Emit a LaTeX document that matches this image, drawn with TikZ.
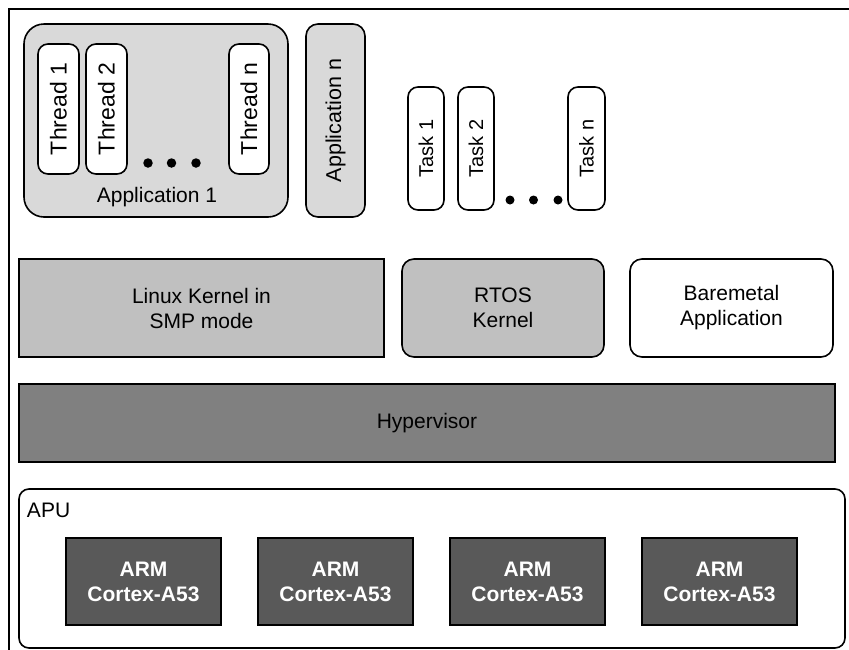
\documentclass[tikz,border=0pt]{standalone}
\usepackage{fontspec}
\setmainfont{Liberation Sans}
\begin{document}
\begin{tikzpicture}[x=1pt,y=-1pt,
  every node/.style={inner sep=0pt, outer sep=0pt, font=\fontsize{21}{25}\selectfont, align=center},
  box/.style={draw=black, line width=1.6pt},
  rbox/.style={box, rounded corners=#1},
  rbox/.default=12pt,
  vbox/.style={rbox=10pt, fill=white, rotate=90},
  thbox/.style={vbox, minimum width=130pt, font=\fontsize{23}{25}\selectfont},
  tkbox/.style={vbox, minimum width=123pt, font=\fontsize{20}{25}\selectfont},
  dot/.style={circle, fill=black, minimum size=9.5pt},
  armbox/.style={box, fill=armgray, minimum width=155pt, minimum height=87pt, text=white, font=\fontsize{21}{25}\selectfont\bfseries}
]
\definecolor{appgray}{HTML}{D9D9D9}
\definecolor{kgray}{HTML}{C0C0C0}
\definecolor{hypgray}{HTML}{808080}
\definecolor{armgray}{HTML}{595959}
\useasboundingbox (0,0) rectangle (849,649);
\fill[white] (0,0) rectangle (849,649);
% outer frame
\coordinate (fbl) at (9,652);
\coordinate (ftl) at (9,9);
\coordinate (ftr) at (852,9);
\draw[line width=1.6pt] (fbl) -- (ftl) -- (ftr);

% Application 1
\node[rbox=20pt, fill=appgray, minimum width=264pt, minimum height=193pt] (app1) at (156,120.5) {};
\node (app1lbl) at (157,197) {Application 1};
\node[thbox, minimum height=41pt] (th1) at (58.5,109) {Thread 1};
\node[thbox, minimum height=41pt] (th2) at (106.5,109) {Thread 2};
\node[thbox, minimum height=40pt] (thn) at (249,109) {Thread n};
\node[dot] (d1) at (148,163) {};
\node[dot] (d2) at (171.5,163) {};
\node[dot] (d3) at (196,163) {};

% Application n
\node[rbox=12pt, fill=appgray, rotate=90, minimum width=193pt, minimum height=59pt, font=\fontsize{21.5}{25}\selectfont] (appn) at (335.5,120.5) {Application n};

% Tasks
\node[tkbox, minimum height=36pt] (t1) at (426,148.5) {Task 1};
\node[tkbox, minimum height=36pt] (t2) at (476,148.5) {Task 2};
\node[tkbox, minimum height=37pt] (tn) at (586.5,148.5) {Task n};
\node[dot, minimum size=9pt] (e1) at (510,200) {};
\node[dot, minimum size=9pt] (e2) at (533.5,200) {};
\node[dot, minimum size=9pt] (e3) at (558,200) {};

% Kernels
\node[box, fill=kgray, minimum width=365pt, minimum height=98pt] (linux) at (201.5,308) {Linux Kernel in\\SMP mode};
\node[rbox=12pt, fill=kgray, minimum width=202pt, minimum height=98pt] (rtos) at (503,308) {RTOS\\Kernel};
\node[rbox=12pt, fill=white, minimum width=203pt, minimum height=98pt] (bare) at (731.5,308) {Baremetal\\Application};

% Hypervisor
\node[box, fill=hypgray, minimum width=816pt, minimum height=78pt] (hyp) at (427,423) {Hypervisor};

% APU
\node[rbox=10pt, fill=white, minimum width=826pt, minimum height=159pt] (apu) at (432,568.5) {};
\node[anchor=base west] (apulbl) at (27,517) {APU};
\node[armbox] (arm1) at (143.5,581.5) {ARM\\Cortex-A53};
\node[armbox] (arm2) at (335.5,581.5) {ARM\\Cortex-A53};
\node[armbox] (arm3) at (527.5,581.5) {ARM\\Cortex-A53};
\node[armbox] (arm4) at (719.5,581.5) {ARM\\Cortex-A53};
\end{tikzpicture}
\end{document}
